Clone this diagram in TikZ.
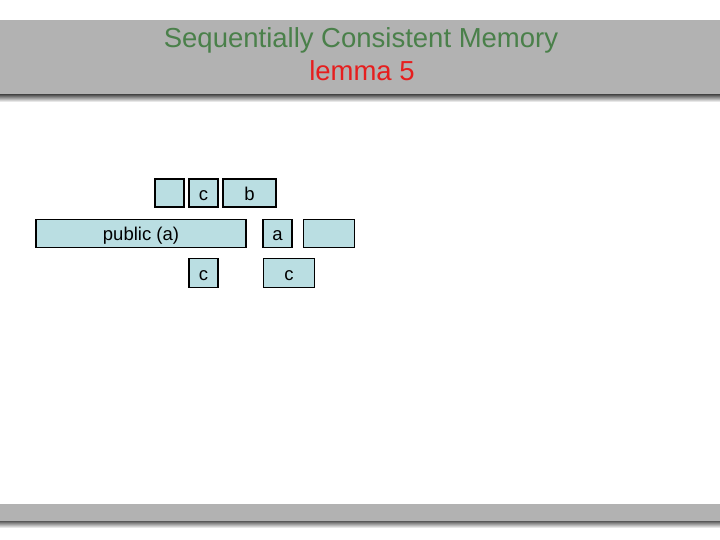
\documentclass[tikz,border=0pt]{standalone}
\usepackage{fontspec}
\setmainfont{Liberation Sans}
\usetikzlibrary{positioning}
\definecolor{bandgray}{RGB}{178,178,178}
\definecolor{titlegreen}{RGB}{74,128,74}
\definecolor{titlered}{RGB}{230,30,30}
\definecolor{cellblue}{RGB}{186,222,226}
\tikzset{
  band/.style={fill=bandgray, draw=none},
  bandshadow/.style={top color=black!65, bottom color=white, draw=none},
  cell/.style={rectangle, draw=black, line width=1.2pt, fill=cellblue, minimum height=28pt, inner sep=0pt, text height=16pt, text depth=1pt, font=\fontsize{18.5}{20}\selectfont, text centered}
}

\begin{document}
\begin{tikzpicture}[x=1pt, y=-1pt]
        \useasboundingbox (0,0) rectangle (720,540);
        % header and footer bands
        \fill[white] (0,0) rectangle (720,540);
        \fill[band] (0,20) rectangle (720,95);
        \shade[bandshadow] (0,95) rectangle (720,102);
        \fill[band] (0,504) rectangle (720,521);
        \shade[bandshadow] (0,521) rectangle (720,528);

        \node (title) [anchor=base, text=titlegreen, font=\fontsize{27.5}{30}\selectfont, inner sep=0pt] at (361,47.5) {Sequentially Consistent Memory};
        \node (lemma) [anchor=base, text=titlered, font=\fontsize{27.5}{30}\selectfont, inner sep=0pt] at (362,81) {lemma 5};

        % first row
        \node (blank1) [cell, minimum width=29pt] at (169.5,193) {};
        \node (c1) [cell, minimum width=29pt] at (203.5,193) {c};
        \node (b) [cell, minimum width=53pt] at (249.5,193) {b};
        % second row
        \node (pub) [cell, minimum width=210pt] at (141,233.3) {public (a)};
        \node (a) [cell, minimum width=29pt] at (277.5,233.3) {a};
        \node (blank2) [cell, minimum width=51pt] at (329,233.3) {};
        % third row
        \node (c2) [cell, minimum width=29pt, minimum height=29pt] at (203.5,272.8) {c};
        \node (c3) [cell, minimum width=51pt, minimum height=29pt] at (289,272.8) {c};
    \end{tikzpicture}
\end{document}
